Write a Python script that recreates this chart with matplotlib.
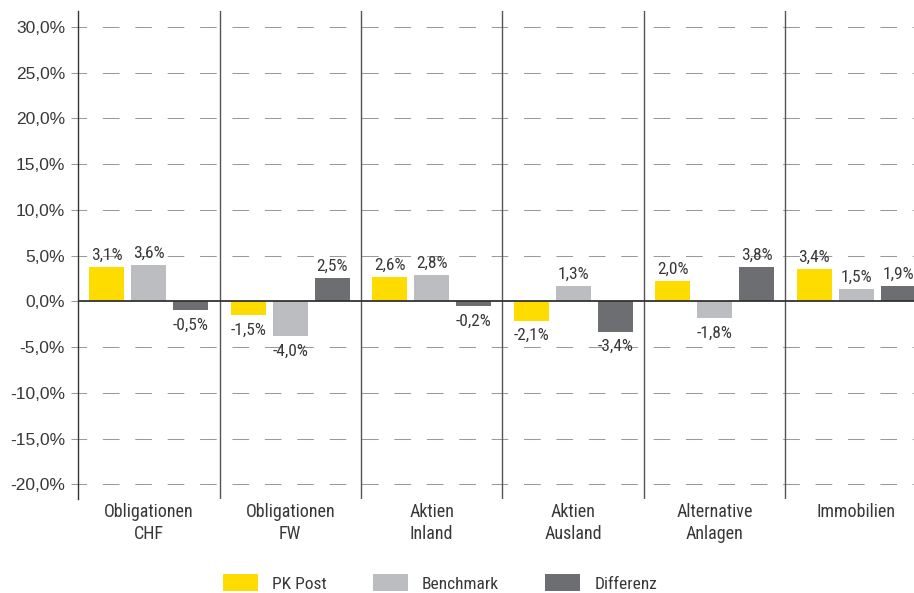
import matplotlib
matplotlib.use("Agg")
import matplotlib.pyplot as plt
from matplotlib.patches import Patch
import numpy as np

plt.rcParams['font.family'] = ['Roboto Condensed', 'Liberation Sans', 'DejaVu Sans']

# data (bar heights) and the printed labels
categories = ['Obligationen\nCHF', 'Obligationen\nFW', 'Aktien\nInland',
              'Aktien\nAusland', 'Alternative\nAnlagen', 'Immobilien']
pk_post = [3.75, -1.5, 2.65, -2.1, 2.2, 3.55]
benchmark = [4.0, -3.8, 2.85, 1.65, -1.85, 1.35]
differenz = [-0.95, 2.55, -0.5, -3.3, 3.75, 1.65]
pk_labels = ['3,1%', '-1,5%', '2,6%', '-2,1%', '2,0%', '3,4%']
bm_labels = ['3,6%', '-4,0%', '2,8%', '1,3%', '-1,8%', '1,5%']
diff_labels = ['-0,5%', '2,5%', '-0,2%', '-3,4%', '3,8%', '1,9%']
series_names = ['PK Post', 'Benchmark', 'Differenz']
yticks = [-20, -15, -10, -5, 0, 5, 10, 15, 20, 25, 30]

colors = ['#FFDC00', '#BCBDC0', '#6D6E71']
txt = '#383838'

fig = plt.figure(figsize=(9.14, 5.93), dpi=100)
ax = fig.add_axes([78/914, 1-499/593, 1-78/914, (499-11)/593])

x = np.arange(len(categories))
width = 0.247
step = 0.297

ax.set_ylim(-21.6, 31.75)
ax.set_xlim(-0.5, -0.5 + 836/141.5)

# dashed grid
for v in yticks:
    if v == 0:
        continue
    ax.axhline(v, color='#9a9a9a', lw=0.75, ls=(7.7, (16.0, 15.1)), zorder=0)

series = [(pk_post, pk_labels), (benchmark, bm_labels), (differenz, diff_labels)]
for k, (vals, labs) in enumerate(series):
    xs = x + (k - 1) * step
    ax.bar(xs, vals, width=width, color=colors[k], zorder=2)
    for xi, v, lab in zip(xs, vals, labs):
        if v >= 0:
            off = 5.2
        else:
            off = -14.0
        ax.annotate(lab, (xi, v), xytext=(0, off), textcoords='offset points',
                    ha='center', va='baseline', fontsize=12.5, color=txt)

# separators
for i in range(len(categories)):
    ax.axvline(i + 0.5, color='#555555', lw=1.0, zorder=3)
ax.axhline(0, color='#333333', lw=1.3, zorder=4)

for s in ['top', 'right', 'bottom']:
    ax.spines[s].set_visible(False)
ax.spines['left'].set_color('#333333')
ax.spines['left'].set_linewidth(1.0)

ax.set_yticks(yticks)
ax.set_yticklabels([f"{v:.1f}%".replace('.', ',') for v in yticks],
                   family=['Liberation Sans', 'DejaVu Sans'])
ax.tick_params(axis='y', direction='out', length=5, width=0.75, color='#9a9a9a',
               pad=4.3, labelsize=12.5, labelcolor=txt)

ax.set_xticks(x)
ax.set_xticklabels(categories, linespacing=1.3)
ax.tick_params(axis='x', length=0, pad=3, labelsize=13, labelcolor=txt)

handles = [Patch(facecolor=c, edgecolor='none') for c in colors]
fig.legend(handles, series_names, loc='center', bbox_to_anchor=(440/914, 1-583/593),
           ncol=3, frameon=False, fontsize=12.5, handlelength=2.02, handleheight=1.15,
           handletextpad=0.81, columnspacing=2.65, labelcolor=txt)

fig.savefig('out.png', dpi=100)
